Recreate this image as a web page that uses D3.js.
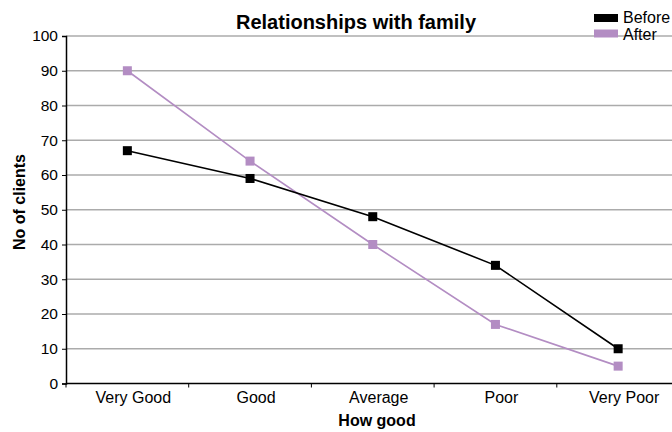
<!DOCTYPE html>
<html>
<head>
<meta charset="utf-8">
<script src="https://cdn.jsdelivr.net/npm/d3@7/dist/d3.min.js"></script>
<style>
  html, body { margin: 0; padding: 0; background: #fff; }
  svg { display: block; }
  text { font-family: "Liberation Sans", Arial, sans-serif; fill: #000; }
</style>
</head>
<body>
<svg id="chart" width="672" height="432"></svg>
<script>
// Ratings of family relationships, before and after support
const categories = ["Very Good", "Good", "Average", "Poor", "Very Poor"];
const beforeValues = [67, 59, 48, 34, 10];
const afterValues = [90, 64, 40, 17, 5];
const yTicks = [0, 10, 20, 30, 40, 50, 60, 70, 80, 90, 100];
const seriesNames = ["Before", "After"];
const seriesColors = ["#000000", "#b38dc3"];

const svg = d3.select("#chart");
const W = 672, H = 432;
const plotLeft = 66, plotRight = 679.5, plotTop = 36, plotBottom = 383.5;

const x = d3.scaleBand().domain(categories).range([plotLeft, plotRight]).padding(0);
const y = d3.scaleLinear().domain([0, 100]).range([plotBottom, plotTop]);

// Horizontal gridlines
svg.append("g")
  .selectAll("line")
  .data(yTicks.filter(d => d > 0))
  .join("line")
  .attr("x1", plotLeft).attr("x2", W)
  .attr("y1", d => y(d)).attr("y2", d => y(d))
  .attr("stroke", "#ababab")
  .attr("stroke-width", 1.6);

// Y axis
const yAxis = svg.append("g")
  .attr("transform", `translate(${plotLeft},0)`)
  .call(d3.axisLeft(y).tickValues(yTicks).tickSize(4).tickPadding(4));
yAxis.select(".domain").attr("stroke", "#000").attr("stroke-width", 1.5);
yAxis.selectAll(".tick line").attr("stroke", "#000");
yAxis.selectAll(".tick text")
  .style("font-size", "15.5px")
  .style("font-family", "'Liberation Sans', Arial, sans-serif");

// X axis with ticks on category boundaries
const xAxisG = svg.append("g").attr("transform", `translate(0,${plotBottom})`);
xAxisG.append("line")
  .attr("x1", plotLeft).attr("x2", W)
  .attr("stroke", "#000").attr("stroke-width", 1.5);
xAxisG.selectAll("line.tick")
  .data(categories)
  .join("line")
  .attr("class", "tick")
  .attr("x1", d => x(d)).attr("x2", d => x(d))
  .attr("y1", 0).attr("y2", 4)
  .attr("stroke", "#000");
xAxisG.selectAll("text")
  .data(categories)
  .join("text")
  .attr("x", d => x(d) + x.bandwidth() / 2 + 6)
  .attr("y", 19.5)
  .attr("text-anchor", "middle")
  .style("font-size", "16px")
  .text(d => d);

// Series lines and square markers
const series = [beforeValues, afterValues];
const line = d3.line()
  .x((d, i) => x(categories[i]) + x.bandwidth() / 2)
  .y(d => y(d));

[1, 0].forEach(s => {
  const g = svg.append("g");
  g.append("path")
    .datum(series[s])
    .attr("d", line)
    .attr("fill", "none")
    .attr("stroke", seriesColors[s])
    .attr("stroke-width", 1.6);
  g.selectAll("rect")
    .data(series[s])
    .join("rect")
    .attr("x", (d, i) => x(categories[i]) + x.bandwidth() / 2 - 4.5)
    .attr("y", d => y(d) - 4.5)
    .attr("width", 9).attr("height", 9)
    .attr("fill", seriesColors[s]);
});

// Title
svg.append("text")
  .attr("x", 356).attr("y", 29)
  .attr("text-anchor", "middle")
  .style("font-size", "20px").style("font-weight", "bold")
  .text("Relationships with family");

// Axis titles
svg.append("text")
  .attr("x", 377).attr("y", 426)
  .attr("text-anchor", "middle")
  .style("font-size", "16px").style("font-weight", "bold")
  .text("How good");

svg.append("text")
  .attr("transform", "translate(25,202) rotate(-90)")
  .attr("text-anchor", "middle")
  .style("font-size", "16px").style("font-weight", "bold")
  .text("No of clients");

// Legend
const legend = svg.append("g");
seriesNames.forEach((name, i) => {
  legend.append("rect")
    .attr("x", 594).attr("y", 14 + i * 15.5)
    .attr("width", 24).attr("height", 8)
    .attr("fill", seriesColors[i]);
  legend.append("text")
    .attr("x", 623).attr("y", 23 + i * 16.5)
    .style("font-size", "16px")
    .text(name);
});
</script>
</body>
</html>
